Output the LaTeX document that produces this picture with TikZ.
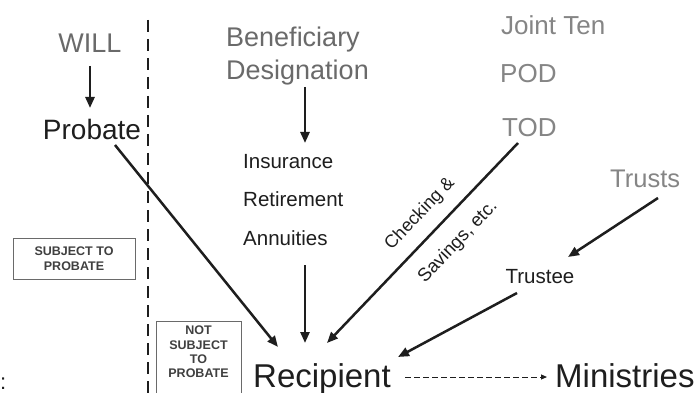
\documentclass[tikz,border=0pt]{standalone}
\usepackage{fontspec}
\setmainfont{Liberation Sans}
\usetikzlibrary{arrows.meta}
\definecolor{ink}{HTML}{1E1E1E}
\definecolor{grayA}{HTML}{6A6A6A}
\definecolor{grayB}{HTML}{858585}
\definecolor{boxtxt}{HTML}{404040}
\tikzset{
  lbl/.style={inner sep=0pt, anchor=base, text=ink},
  ttl/.style={inner sep=0pt, anchor=base, text=grayA},
  ttl2/.style={inner sep=0pt, anchor=base west, text=grayB},
  arr/.style={draw=ink, line width=2.5pt, -{Triangle[length=11pt,width=9pt]}},
  boxnote/.style={draw=grayA, line width=0.9pt, inner sep=0pt, text=boxtxt, font=\fontsize{12.5}{14.5}\selectfont\bfseries, align=center},
}
\begin{document}
\begin{tikzpicture}[x=1pt,y=-1pt]
\useasboundingbox (0,0) rectangle (696,393);
\fill[white] (0,0) rectangle (696,393);

% dashed divider
\draw[ink, line width=1.3pt, dash pattern=on 12pt off 7pt] (148,20) -- (148,396);

% left column
\node[ttl, font=\fontsize{27}{32}\selectfont] (will) at (90,53) {WILL};
\node[lbl, font=\fontsize{28}{33}\selectfont] (probate) at (92,140) {Probate};
\coordinate (willA) at (90,66);
\coordinate (willB) at (90,108);
\draw[arr] (willA) -- (willB);

% boxes
\node[boxnote, minimum width=122pt, minimum height=41pt] (subj) at (74,258.5) {SUBJECT TO\\PROBATE};
\draw[grayA, line width=0.9pt] (156,394) -- (156,321) -- (241,321) -- (241,394);
\node[inner sep=0pt, text=boxtxt, font=\fontsize{12.5}{14.3}\selectfont\bfseries, align=center, anchor=north] (notsubj) at (198.5,326) {NOT\\SUBJECT\\TO\\PROBATE};

% beneficiary column
\node[ttl, anchor=base west, font=\fontsize{27}{32}\selectfont] (benef) at (226,47) {Beneficiary};
\node[ttl, anchor=base west, font=\fontsize{27}{32}\selectfont] (desig) at (226,80) {Designation};
\coordinate (bA) at (305,87);
\coordinate (bB) at (305,143);
\draw[arr] (bA) -- (bB);
\node[lbl, anchor=base west, font=\fontsize{20.5}{24}\selectfont] (ins) at (243,168) {Insurance};
\node[lbl, anchor=base west, font=\fontsize{20.5}{24}\selectfont] (ret) at (243,206.5) {Retirement};
\node[lbl, anchor=base west, font=\fontsize{20.5}{24}\selectfont] (ann) at (243,245) {Annuities};
\coordinate (aA) at (305,265);
\coordinate (aB) at (305,343);
\draw[arr] (aA) -- (aB);

% joint / pod / tod
\node[ttl2, font=\fontsize{26}{30}\selectfont] (joint) at (501,35) {Joint Ten};
\node[ttl2, font=\fontsize{26}{30}\selectfont] (pod) at (500,83) {POD};
\node[ttl2, font=\fontsize{26}{30}\selectfont] (tod) at (502,137) {TOD};
\coordinate (tA) at (518,143);
\coordinate (tB) at (327,343);
\draw[arr] (tA) -- (tB);
\node[inner sep=0pt, text=ink, rotate=46.5, font=\fontsize{18}{22}\selectfont] (check) at (420,214) {Checking \&};
\node[inner sep=0pt, text=ink, rotate=46.5, font=\fontsize{18.5}{22}\selectfont] (sav) at (458,242) {Savings, etc.};

% trusts
\node[ttl2, font=\fontsize{25.5}{30}\selectfont] (trusts) at (610,187) {Trusts};
\node[lbl, font=\fontsize{20.5}{24}\selectfont] (trustee) at (540,283) {Trustee};
\coordinate (trA) at (658,198);
\coordinate (trB) at (568,257);
\draw[arr] (trA) -- (trB);
\coordinate (teA) at (517,293);
\coordinate (teB) at (398,357);
\draw[arr] (teA) -- (teB);

% probate to recipient
\coordinate (pA) at (115,145);
\coordinate (pB) at (278,347);
\draw[arr] (pA) -- (pB);

% bottom row
\node[lbl, anchor=base west, font=\fontsize{33}{40}\selectfont] (recip) at (253,387) {Recipient};
\node[lbl, anchor=base west, font=\fontsize{33}{40}\selectfont] (min) at (555,387) {Ministries};
\coordinate (rA) at (405,377);
\coordinate (rB) at (547,377);
\draw[ink, line width=1pt, dash pattern=on 5.5pt off 3.5pt, -{Triangle[length=6pt,width=5pt]}] (rA) -- (rB);

% fragment at left edge
\node[inner sep=0pt, anchor=base west, text=ink, font=\fontsize{22}{26}\selectfont] (frag) at (0,389) {:};
\end{tikzpicture}
\end{document}
